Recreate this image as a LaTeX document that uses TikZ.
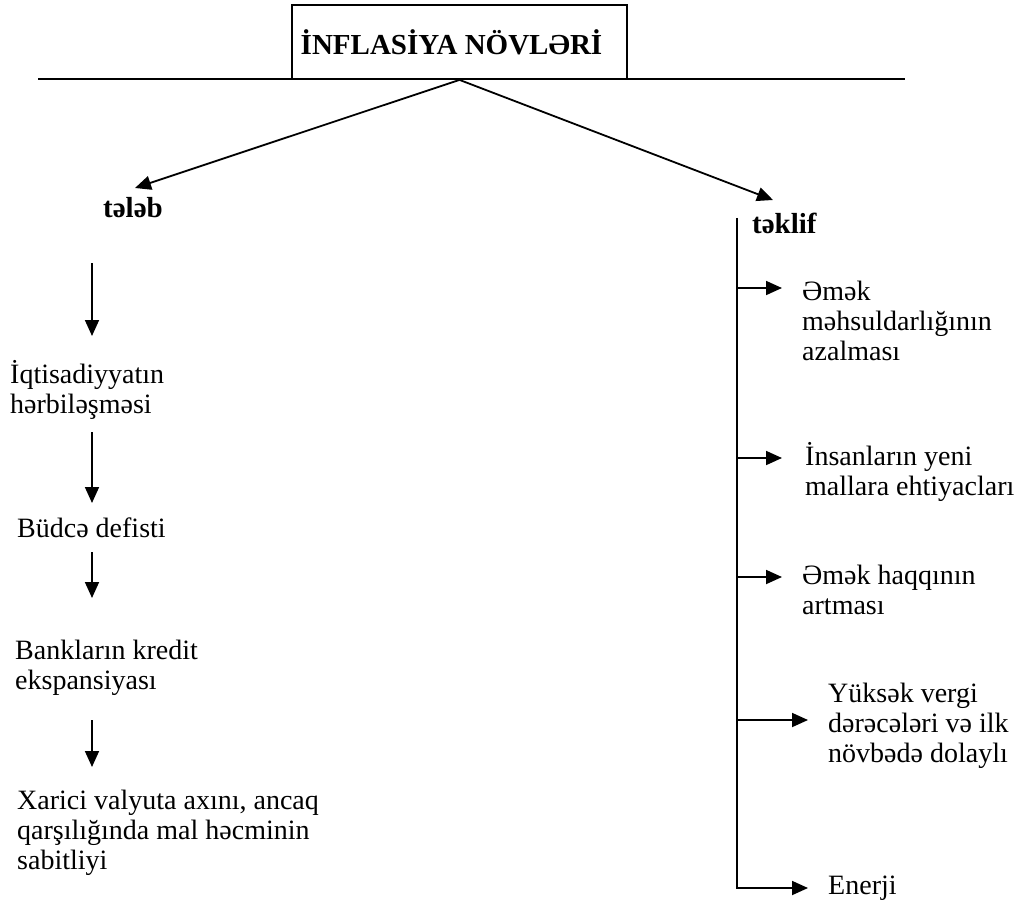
\documentclass[tikz,border=0pt]{standalone}
\usepackage{fontspec}
\setmainfont{Liberation Serif}
\usetikzlibrary{arrows.meta}
% fixed ascent for the first line of every text block
\newcommand\firstln{\rule{0pt}{25pt}}
\begin{document}
\begin{tikzpicture}[x=1pt,y=-1pt,
  line/.style={line width=1.8pt},
  arr/.style={line width=1.8pt,-{Triangle[length=16pt,width=14pt]}},
  txt/.style={font=\fontsize{28}{30}\selectfont, inner sep=0pt, anchor=north west, align=left},
  head/.style={font=\fontsize{29}{32}\selectfont\bfseries, inner sep=0pt, anchor=west},
  ]
\useasboundingbox[fill=white] (0,0) rectangle (1025,904);

% title box and the rule under it
\node[draw, line width=1.8pt, minimum width=335pt, minimum height=74pt, inner sep=0pt,
      font=\fontsize{29}{31}\selectfont\bfseries] (title) at (459.5,42) {İNFLASİYA NÖVLƏRİ\hspace*{16pt}};
\coordinate (hl) at (38,79);
\coordinate (hr) at (905,79);
\draw[line] (hl) -- (hr);

% the two kinds
\node[head] (teleb) at (103,208) {tələb};
\node[head] (teklif) at (752,223) {təklif};
\coordinate (tipL) at (135,188);
\coordinate (tipR) at (773,200);
\draw[arr] (title.south) -- (tipL);
\draw[arr] (title.south) -- (tipR);

% demand chain
\node[txt] (l1) at (10,358) {\firstln İqtisadiyyatın\\hərbiləşməsi};
\node[txt] (l2) at (17,512) {\firstln Büdcə defisti};
\node[txt] (l3) at (15,634) {\firstln Bankların kredit\\ekspansiyası};
\node[txt] (l4) at (17,784) {\firstln Xarici valyuta axını, ancaq\\qarşılığında mal həcminin\\sabitliyi};

\coordinate (a1s) at (92,263); \coordinate (a1e) at (92,336);
\coordinate (a2s) at (92,432); \coordinate (a2e) at (92,503);
\coordinate (a3s) at (92,552); \coordinate (a3e) at (92,598);
\coordinate (a4s) at (92,720); \coordinate (a4e) at (92,767);
\draw[arr] (a1s) -- (a1e);
\draw[arr] (a2s) -- (a2e);
\draw[arr] (a3s) -- (a3e);
\draw[arr] (a4s) -- (a4e);

% supply branches
\node[txt] (r1) at (802,275) {\firstln Əmək\\məhsuldarlığının\\azalması};
\node[txt] (r2) at (805,440) {\firstln İnsanların yeni\\mallara ehtiyacları};
\node[txt] (r3) at (802,559) {\firstln Əmək haqqının\\artması};
\node[txt] (r4) at (828,677) {\firstln Yüksək vergi\\dərəcələri və ilk\\növbədə dolaylı};
\node[txt] (r5) at (828,869) {\firstln Enerji};

\coordinate (sTop) at (737,218);
\coordinate (s1) at (737,288);
\coordinate (s2) at (737,458);
\coordinate (s3) at (737,577);
\coordinate (s4) at (737,720);
\coordinate (s5) at (737,888);
\draw[arr] (sTop) |- ([xshift=-20pt]s5 -| r5.west);
\draw[arr] (s1) -- ([xshift=-20pt]s1 -| r1.west);
\draw[arr] (s2) -- ([xshift=-23pt]s2 -| r2.west);
\draw[arr] (s3) -- ([xshift=-20pt]s3 -| r3.west);
\draw[arr] (s4) -- ([xshift=-20pt]s4 -| r4.west);
\end{tikzpicture}
\end{document}
